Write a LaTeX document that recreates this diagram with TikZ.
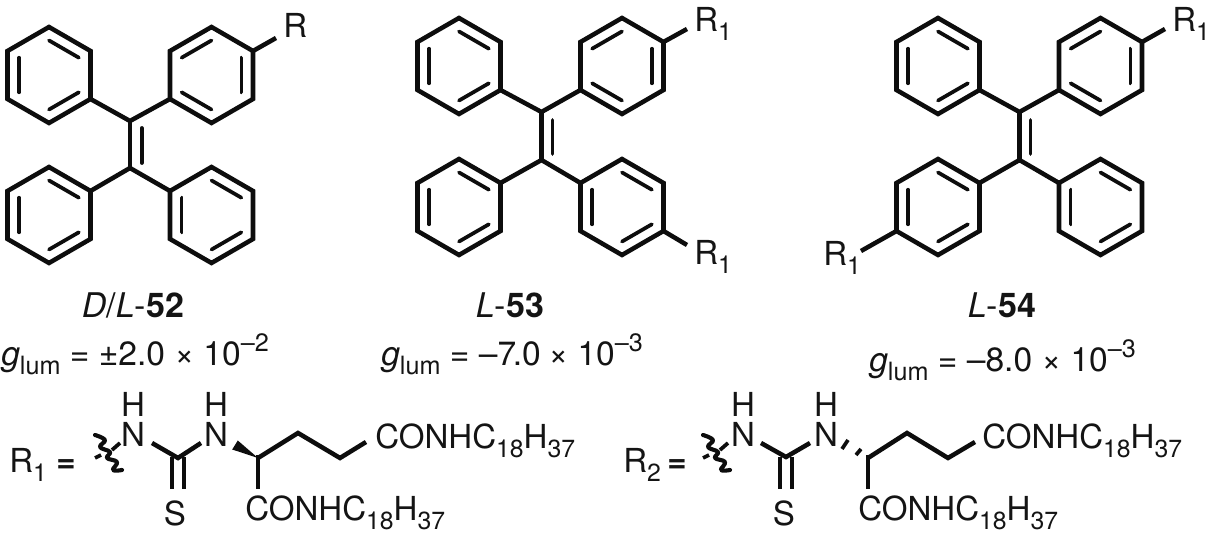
\documentclass[tikz,border=0pt]{standalone}
\usepackage{fontspec}
\setmainfont{TeX Gyre Heros}
\usetikzlibrary{calc}
\newcommand{\lowsub}[1]{\raisebox{-.25em}{\scalebox{.75}{#1}}}
\newcommand{\highsup}[1]{\raisebox{.42em}{\scalebox{.75}{#1}}}
\newcommand{\phring}[4]{%
  \coordinate (#1-c) at (#2,#3);
  \coordinate (#1-1) at (#2,#3-48);
  \coordinate (#1-2) at (#2+41.5,#3-24);
  \coordinate (#1-3) at (#2+41.5,#3+24);
  \coordinate (#1-4) at (#2,#3+48);
  \coordinate (#1-5) at (#2-41.5,#3+24);
  \coordinate (#1-6) at (#2-41.5,#3-24);
  \draw[bond] (#1-1)--(#1-2)--(#1-3)--(#1-4)--(#1-5)--(#1-6)--cycle;
  \foreach \p/\q in {#4}{
    \draw[inner] ($(#1-c)!.72!(#1-\p)$)--($(#1-c)!.72!(#1-\q)$);
  }}
\newcommand{\wavyat}[1]{%
  \draw[wavy,shift={(#1,0)}] plot[smooth,tension=.7] coordinates {(95,435) (105,440) (100,447) (110,452) (107,458) (117,462) (113,470) (122,470)};
  \draw[stub,shift={(#1,0)}] (95,458)--(101,455) (112,450)--(120,443);}
\tikzset{
  bond/.style={line width=3.4pt,line join=miter,line cap=butt,black!95},
  inner/.style={line width=2.8pt,line cap=round,black!95},
  stub/.style={line width=2.8pt,black!95},
  txt/.style={inner sep=0pt,anchor=base west,font=\fontsize{24.8}{28}\selectfont,text=black!92},
  lab/.style={inner sep=0pt,anchor=base,font=\fontsize{24.8}{28}\selectfont,text=black!92},
  captiontext/.style={inner sep=0pt,anchor=base,font=\fontsize{25.5}{28}\selectfont,text=black!92},
  lumtext/.style={inner sep=0pt,anchor=base west,font=\fontsize{25.2}{30}\selectfont,text=black!92},
  wavy/.style={line width=3.1pt,line cap=round,line join=round,black!95}
}
\begin{document}
\begin{tikzpicture}[x=.75pt,y=-.75pt]
\useasboundingbox (0,0) rectangle (1208,538);
% molecule 52
\phring{a}{49}{75}{1/2,3/4,5/6}
\phring{b}{211.5}{75}{6/1,2/3,4/5}
\phring{c}{49}{215}{1/2,3/4,5/6}
\phring{d}{211.5}{215}{1/2,3/4,5/6}
\coordinate (a-u) at (130,121); \coordinate (a-v) at (130,168);
\draw[bond] (a-3)--(a-u)--(b-5); \draw[bond] (c-2)--(a-v)--(d-6); \draw[bond] (a-u)--(a-v);
\coordinate (a-iu) at (141.7,128); \coordinate (a-iv) at (141.7,163);
\draw[inner] (a-iu)--(a-iv);
\node[txt] (rA) at (283,38) {R};
\coordinate (rAe) at (276,38);
\draw[bond] (b-2)--(rAe);
% molecule 53
\phring{e}{459}{66}{1/2,3/4,5/6}
\phring{f}{622}{66}{6/1,2/3,4/5}
\phring{g}{459}{207}{1/2,3/4,5/6}
\phring{h}{622}{207}{1/2,3/4,5/6}
\coordinate (e-u) at (541.5,112); \coordinate (e-v) at (541.5,160);
\draw[bond] (e-3)--(e-u)--(f-5); \draw[bond] (g-2)--(e-v)--(h-6); \draw[bond] (e-u)--(e-v);
\coordinate (e-iu) at (552.5,120); \coordinate (e-iv) at (552.5,154);
\draw[inner] (e-iu)--(e-iv);
\node[txt] (rB) at (694,32) {R\lowsub{1}};
\node[txt] (rC) at (694,265) {R\lowsub{1}};
\coordinate (rBe) at (687,29); \coordinate (rCe) at (687,245);
\draw[bond] (f-2)--(rBe); \draw[bond] (h-3)--(rCe);
% molecule 54
\phring{i}{938}{66}{1/2,3/4,5/6}
\phring{j}{1100.5}{66}{6/1,2/3,4/5}
\phring{k}{938}{207}{1/2,3/4,5/6}
\phring{l}{1100.5}{207}{1/2,3/4,5/6}
\coordinate (i-u) at (1019.5,112); \coordinate (i-v) at (1019.5,160);
\draw[bond] (i-3)--(i-u)--(j-5); \draw[bond] (k-2)--(i-v)--(l-6); \draw[bond] (i-u)--(i-v);
\coordinate (i-iu) at (1030.5,120); \coordinate (i-iv) at (1030.5,154);
\draw[inner] (i-iu)--(i-iv);
\node[txt] (rD) at (1172,32) {R\lowsub{1}};
\node[txt] (rE) at (823,266) {R\lowsub{1}};
\coordinate (rDe) at (1165,29); \coordinate (rEe) at (861,251);
\draw[bond] (j-2)--(rDe); \draw[bond] (k-5)--(rEe);
% captions
\node[captiontext] (n52) at (133,318) {\textit{D}/\textit{L}-\textbf{52}};
\node[captiontext] (n53) at (510,318) {\textit{L}-\textbf{53}};
\node[captiontext] (n54) at (1002,318) {\textit{L}-\textbf{54}};
\node[lumtext] (g52) at (1,366) {\textit{g}\lowsub{lum} = ±2.0 × 10\highsup{–2}};
\node[lumtext] (g53) at (381,366) {\textit{g}\lowsub{lum} = –7\kern-.1em.0\kern-.05em{} × 10\highsup{–3}};
\node[lumtext] (g54) at (869,372) {\textit{g}\lowsub{lum} = –8.0 × 10\highsup{–3}};
% R1 side chain
\node[txt] (R1) at (9,473) {R\lowsub{1}};
\node[txt] (eq1) at (56,473) {\textbf{=}};
\node[lab] (H1a) at (133,417) {H};
\node[lab] (N1a) at (133,447) {N};
\node[lab] (H1b) at (216,417) {H};
\node[lab] (N1b) at (216,447) {N};
\node[lab] (S1) at (175,526) {S};
\node[txt] (T1) at (375,449) {CONHC\lowsub{18}H\lowsub{37}};
\node[txt] (T2) at (245,521) {CONHC\lowsub{18}H\lowsub{37}};
\wavyat{0}
\coordinate (c1a) at (152,443); \coordinate (c1) at (178,458); \coordinate (c1b) at (201,443);
\draw[bond] (c1a)--(c1)--(c1b);
\draw[bond] ($(c1)+(-6,-1)$)--++(0,32);
\draw[bond] ($(c1)+(6,-1)$)--++(0,32);
\coordinate (s1) at (258,458); \coordinate (w1) at (235,445);
\fill[black!95] (s1)--($(w1)+(-2.8,4.5)$)--($(w1)+(2.8,-4.5)$)--cycle;
\coordinate (p1) at (298,433); \coordinate (q1) at (340,458); \coordinate (t1) at (366,442);
\draw[bond] (s1)--(p1)--(q1)--(t1);
\coordinate (d1) at (258,489);
\draw[bond] ($(s1)+(0,-3)$)--(d1);
% R2 side chain
\node[txt] (R2) at (623,473) {R\lowsub{2}};
\node[txt] (eq2) at (667,473) {\textbf{=}};
\node[lab] (H2a) at (743,417) {H};
\node[lab] (N2a) at (743,447) {N};
\node[lab] (H2b) at (826,417) {H};
\node[lab] (N2b) at (826,447) {N};
\node[lab] (S2) at (784,526) {S};
\node[txt] (T3) at (982,449) {CONHC\lowsub{18}H\lowsub{37}};
\node[txt] (T4) at (858,521) {CONHC\lowsub{18}H\lowsub{37}};
\wavyat{608}
\coordinate (c2a) at (761,443); \coordinate (c2) at (786,457); \coordinate (c2b) at (810,443);
\draw[bond] (c2a)--(c2)--(c2b);
\draw[bond] ($(c2)+(-6,0)$)--++(0,32);
\draw[bond] ($(c2)+(6,0)$)--++(0,32);
\coordinate (s2) at (868,458);
\draw[stub] (842,449)--(848,440);
\draw[stub] (856,455)--(861,449);
\coordinate (p2) at (907,433); \coordinate (q2) at (948,458); \coordinate (t2) at (975,442);
\draw[bond] (s2)--(p2)--(q2)--(t2);
\coordinate (d2) at (868,489);
\draw[bond] ($(s2)+(0,-3)$)--(d2);
\end{tikzpicture}
\end{document}
